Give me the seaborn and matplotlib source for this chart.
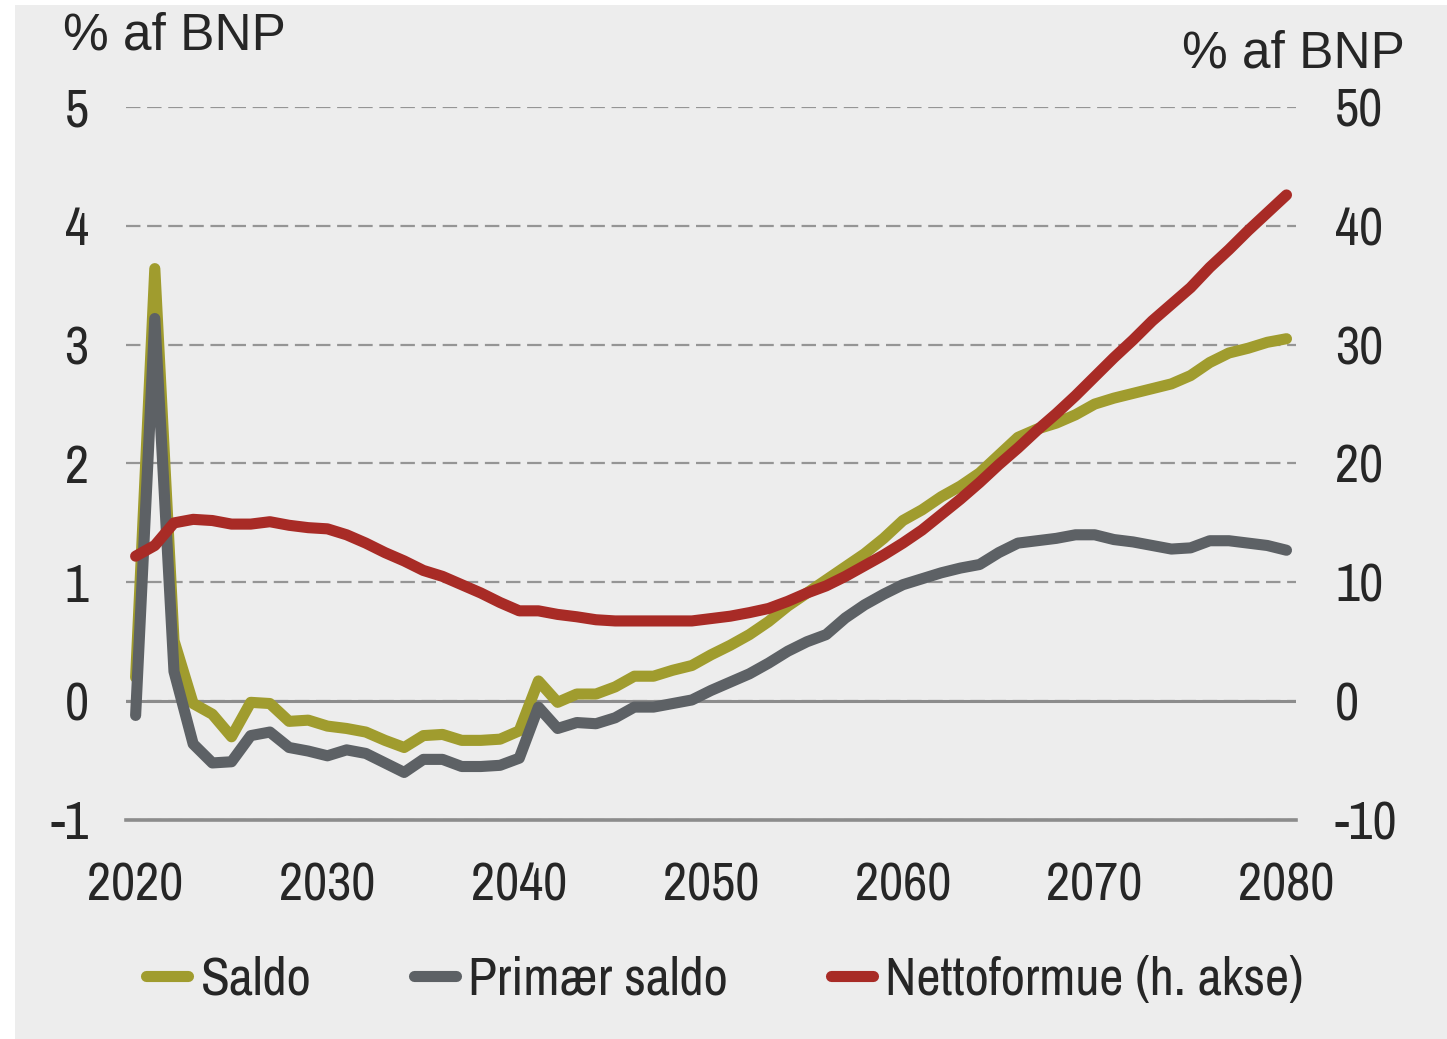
import numpy as np
import seaborn as sns
import matplotlib.pyplot as plt
from matplotlib.patches import Rectangle

# data (% af BNP)
years = list(range(2020, 2081))

saldo = [0.20, 3.64, 0.51, -0.02, -0.11, -0.30, -0.01, -0.02, -0.17, -0.16,
         -0.21, -0.23, -0.26, -0.33, -0.39, -0.29, -0.28, -0.33, -0.33, -0.32,
         -0.25, 0.17, -0.01, 0.06, 0.06, 0.12, 0.21, 0.21, 0.26, 0.30,
         0.39, 0.47, 0.56, 0.67, 0.80, 0.91, 1.02, 1.13, 1.24, 1.37,
         1.52, 1.61, 1.72, 1.81, 1.92, 2.07, 2.22, 2.29, 2.34, 2.41,
         2.50, 2.55, 2.59, 2.63, 2.67, 2.74, 2.85, 2.93, 2.97, 3.02,
         3.05]

primaer_saldo = [-0.12, 3.22, 0.25, -0.36, -0.52, -0.51, -0.29, -0.26, -0.39, -0.42,
                 -0.46, -0.41, -0.44, -0.52, -0.60, -0.49, -0.49, -0.55, -0.55, -0.54,
                 -0.48, -0.05, -0.23, -0.18, -0.19, -0.14, -0.05, -0.05, -0.02, 0.01,
                 0.09, 0.16, 0.23, 0.32, 0.42, 0.50, 0.56, 0.70, 0.81, 0.90,
                 0.98, 1.03, 1.08, 1.12, 1.15, 1.25, 1.33, 1.35, 1.37, 1.40,
                 1.40, 1.36, 1.34, 1.31, 1.28, 1.29, 1.35, 1.35, 1.33, 1.31,
                 1.27]

nettoformue = [12.2, 13.1, 15.0, 15.3, 15.2, 14.9, 14.9, 15.1, 14.8, 14.6,
               14.5, 14.0, 13.3, 12.5, 11.8, 11.0, 10.5, 9.8, 9.1, 8.3,
               7.6, 7.6, 7.3, 7.1, 6.85, 6.75, 6.75, 6.75, 6.75, 6.75,
               6.95, 7.15, 7.45, 7.8, 8.4, 9.1, 9.7, 10.5, 11.4, 12.3,
               13.3, 14.4, 15.7, 17.0, 18.4, 19.9, 21.3, 22.8, 24.2, 25.7,
               27.3, 28.9, 30.4, 32.0, 33.4, 34.8, 36.5, 38.0, 39.6, 41.1,
               42.6]

labels = ['Saldo', 'Primær saldo', 'Nettoformue (h. akse)']
left_ticks = [-1, 0, 1, 2, 3, 4, 5]
right_ticks = [-10, 0, 10, 20, 30, 40, 50]
x_labels = ['2020', '2030', '2040', '2050', '2060', '2070', '2080']

olive = '#a09c2e'
grey = '#5d6165'
red = '#a82b26'
bg = '#ededed'
axis_grey = '#8c8c8c'

sns.set_style('white')
plt.rcParams['font.family'] = ['Archivo Narrow', 'Liberation Sans', 'DejaVu Sans']
plt.rcParams['axes.unicode_minus'] = False

fig, ax = plt.subplots(figsize=(14.47, 10.39), dpi=100)
fig.patch.set_facecolor('white')
fig.add_artist(Rectangle((15 / 1447, 0), 1, 1 - 5 / 1039, transform=fig.transFigure,
                         facecolor=bg, edgecolor='none', zorder=-10))
fig.subplots_adjust(left=0.0871, right=0.8957, bottom=0.2108, top=0.897)
ax.set_facecolor('none')

# category-style axis: points sit in the middle of each year
xs = np.array(years) + 0.5

line_kw = dict(linewidth=8, solid_capstyle='round', solid_joinstyle='round')
sns.lineplot(x=xs, y=saldo, ax=ax, color=olive, label=labels[0], **line_kw)
sns.lineplot(x=xs, y=primaer_saldo, ax=ax, color=grey, label=labels[1], **line_kw)

ax2 = ax.twinx()
ax2.set_facecolor('none')
sns.lineplot(x=xs, y=nettoformue, ax=ax2, color=red, label=labels[2], **line_kw)

ax.set_xlim(2020, 2081)
ax.set_ylim(-1, 5)
ax2.set_ylim(-10, 50)
ax.set_yticks(left_ticks)
ax.set_yticklabels([str(t) for t in left_ticks])
ax2.set_yticks(right_ticks)
ax2.set_yticklabels([str(t) for t in right_ticks])

ax.set_xticks(np.arange(2020, 2081, 10) + 0.5)
ax.set_xticklabels(x_labels)
ax.set_xticks(np.arange(2020, 2081, 10), minor=True)
ax.tick_params(axis='x', which='major', length=0, pad=30, labelsize=38)
ax.tick_params(axis='x', which='minor', length=10.8, width=1.4, color=axis_grey, direction='out')
ax.tick_params(axis='y', length=0, pad=27, labelsize=38)
ax2.tick_params(axis='y', length=0, pad=28, labelsize=38)

ax.yaxis.grid(True, linestyle=(0, (6.5, 3)), color='#959595', linewidth=1.6)
ax.set_axisbelow(True)
ax.axhline(0, color=axis_grey, linewidth=2.2, zorder=1)

for s in ['left', 'right', 'top']:
    ax.spines[s].set_visible(False)
for s in ax2.spines.values():
    s.set_visible(False)
ax.spines['bottom'].set_color(axis_grey)
ax.spines['bottom'].set_linewidth(2.6)
ax.set_xlabel('')

for a in (ax, ax2):
    if a.get_legend() is not None:
        a.get_legend().remove()

h1, l1 = ax.get_legend_handles_labels()
h2, l2 = ax2.get_legend_handles_labels()
fig.legend(h1 + h2, l1 + l2, loc='center', bbox_to_anchor=(0.501, 0.057), ncol=3,
           frameon=False, fontsize=38, handlelength=0.8, handletextpad=0.23,
           columnspacing=1.95)

fig.text(63 / 1447, 1 - 12 / 1039, '% af BNP', ha='left', va='top', fontsize=37,
         family=['Liberation Sans', 'DejaVu Sans'])
fig.text(1405 / 1447, 1 - 30 / 1039, '% af BNP', ha='right', va='top', fontsize=37,
         family=['Liberation Sans', 'DejaVu Sans'])

fig.savefig('out.png', dpi=100, facecolor=fig.get_facecolor())
